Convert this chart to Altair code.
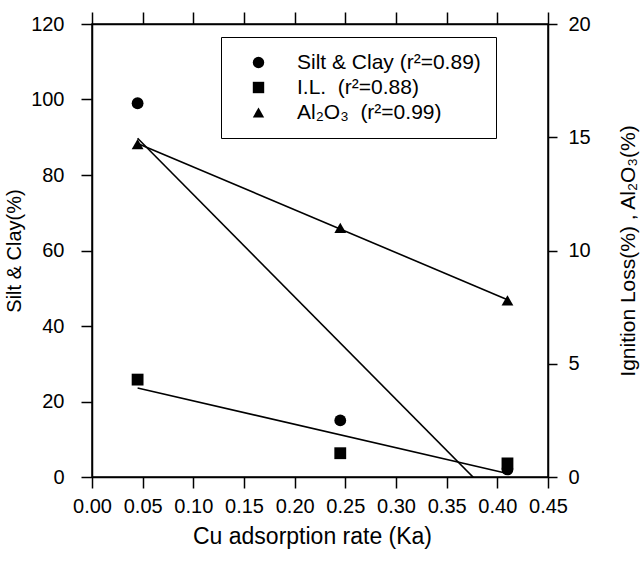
import altair as alt
import pandas as pd

# Measured samples: Cu adsorption rate vs. soil properties
ka = [0.045, 0.245, 0.41]
silt_clay = [99.0, 15.0, 2.0]        # left axis (%)
ignition_loss = [4.3, 1.05, 0.6]     # right axis (%)
al2o3 = [14.7, 11.0, 7.8]            # right axis (%)

series_labels = [
    "Silt & Clay (r²=0.89)",
    "I.L.\u00a0\u00a0(r²=0.88)",
    "Al₂O₃\u00a0\u00a0(r²=0.99)",
]
series_shapes = ["circle", "square", "triangle-up"]

x_ticks = [0.00, 0.05, 0.10, 0.15, 0.20, 0.25, 0.30, 0.35, 0.40, 0.45]
left_ticks = [0, 20, 40, 60, 80, 100, 120]
right_ticks = [0, 5, 10, 15, 20]

left_df = pd.DataFrame({"ka": ka, "value": silt_clay, "series": series_labels[0]})
right_df = pd.concat(
    [
        pd.DataFrame({"ka": ka, "value": ignition_loss, "series": series_labels[1]}),
        pd.DataFrame({"ka": ka, "value": al2o3, "series": series_labels[2]}),
    ],
    ignore_index=True,
)

FONT = "Liberation Sans"
TICK_FS = 20
TITLE_FS = 21

x_scale = alt.Scale(domain=[0, 0.45], nice=False, zero=False)
axis_common = dict(
    labelFont=FONT, labelFontSize=TICK_FS, labelColor="black",
    labelOverlap=False, labelFlush=False,
    titleFont=FONT, titleFontWeight="normal", titleColor="black",
    domainColor="black", domainWidth=1.5, tickColor="black", tickWidth=1.5,
    grid=False,
)

x_bottom = alt.X(
    "ka:Q", scale=x_scale,
    axis=alt.Axis(values=x_ticks, format=".2f", orient="bottom", tickSize=11,
                  labelPadding=8, title="Cu adsorption rate (Ka)", titleFontSize=23,
                  titlePadding=9, titleX=220, titleAlign="center", **axis_common),
)
x_top = alt.X(
    "ka:Q", scale=x_scale,
    axis=alt.Axis(values=x_ticks, orient="top", tickSize=12, labels=False,
                  title="", **axis_common),
)
y_left = alt.Y(
    "value:Q", scale=alt.Scale(domain=[0, 120], nice=False),
    axis=alt.Axis(values=left_ticks, orient="left", tickSize=11, labelPadding=17,
                  title="Silt & Clay(%)", titleFontSize=20, titlePadding=6,
                  **axis_common),
)
y_right = alt.Y(
    "value:Q", scale=alt.Scale(domain=[0, 20], nice=False),
    axis=alt.Axis(values=right_ticks, orient="right", tickSize=9, labelPadding=11,
                  title="Ignition Loss(%) , Al₂O₃(%)", titleFontSize=TITLE_FS,
                  titleAngle=270, titlePadding=48, **axis_common),
)

shape_scale = alt.Scale(domain=series_labels, range=series_shapes)
legend = alt.Legend(
    title=None, orient="none", legendX=129, legendY=13,
    strokeColor="black", fillColor="white", padding=15,
    labelFont=FONT, labelFontSize=21, labelColor="black", labelLimit=400,
    symbolSize=130, symbolFillColor="black", symbolStrokeColor="black",
    symbolOffset=12, labelOffset=28, rowPadding=3,
)

points_kw = dict(filled=True, size=140, opacity=1, color="black")
line_kw = dict(color="black", strokeWidth=1.6, clip=True)

left_points = alt.Chart(left_df).mark_point(**points_kw).encode(
    x=x_bottom, y=y_left,
    shape=alt.Shape("series:N", scale=shape_scale, legend=legend),
)
left_fit = alt.Chart(left_df).transform_regression("ka", "value").mark_line(**line_kw).encode(
    x=x_bottom, y=y_left,
)

right_points = alt.Chart(right_df).mark_point(**points_kw).encode(
    x=x_top, y=y_right,
    shape=alt.Shape("series:N", scale=shape_scale, legend=legend),
)
right_fit = (
    alt.Chart(right_df)
    .transform_regression("ka", "value", groupby=["series"])
    .mark_line(**line_kw)
    .encode(x=x_top, y=y_right, detail="series:N")
)

left = alt.layer(left_points, left_fit)
right = alt.layer(right_points, right_fit)

chart = (
    alt.layer(left, right)
    .resolve_scale(y="independent")
    .resolve_axis(x="independent")
    .properties(
        width=456, height=453,
        autosize=alt.AutoSizeParams(type="none"),
        padding={"left": 92, "top": 24, "right": 94, "bottom": 85},
        background="white",
    )
    .configure_view(stroke="black", strokeWidth=1.5)
)

chart.save("out.html", embed_options={"renderer": "svg", "actions": False})
